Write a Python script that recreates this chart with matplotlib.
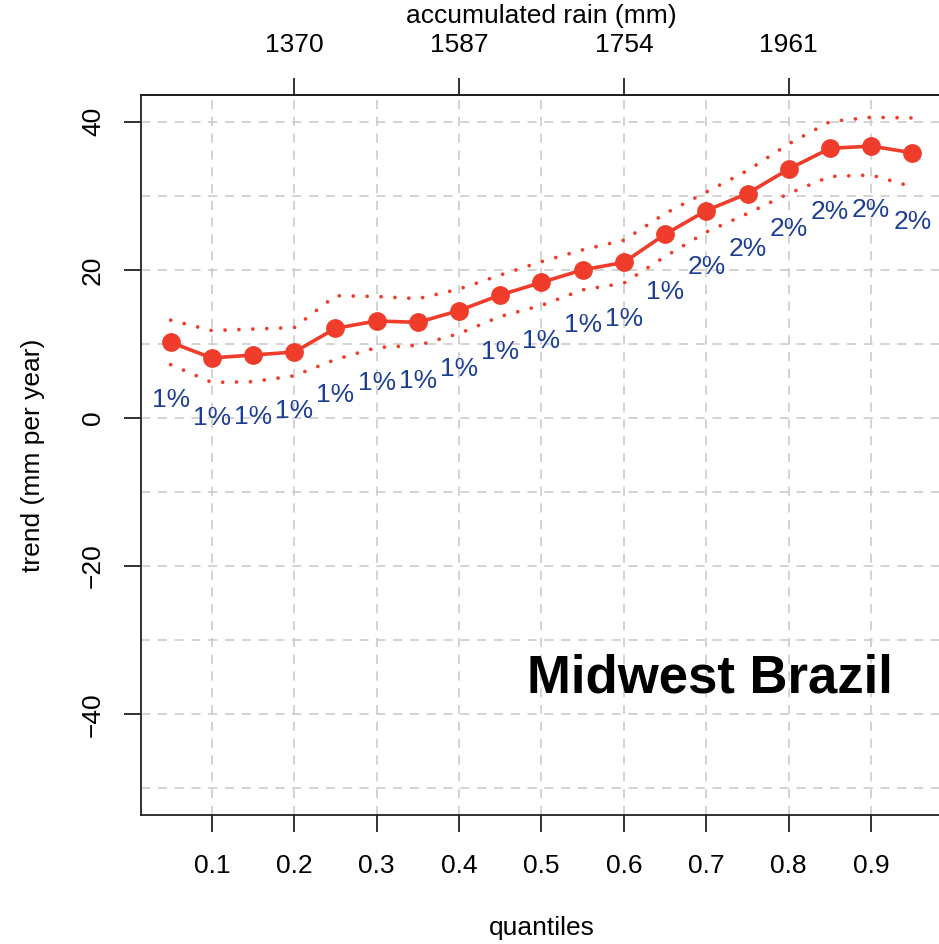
import matplotlib
matplotlib.use("Agg")
import matplotlib.pyplot as plt
import numpy as np

plt.rcParams['font.family'] = ['Liberation Sans', 'DejaVu Sans']

# ---- data ----
quantiles = [0.05, 0.10, 0.15, 0.20, 0.25, 0.30, 0.35, 0.40, 0.45, 0.50,
             0.55, 0.60, 0.65, 0.70, 0.75, 0.80, 0.85, 0.90, 0.95]
trend = [10.2, 8.1, 8.5, 8.9, 12.1, 13.1, 12.9, 14.5, 16.6, 18.3,
         20.0, 21.0, 24.8, 28.0, 30.3, 33.6, 36.4, 36.7, 35.8]
upper = [13.2, 11.8, 12.0, 12.2, 16.5, 16.4, 16.1, 17.4, 19.3, 21.1,
         22.7, 24.0, 27.6, 30.5, 33.4, 37.0, 40.0, 40.6, 40.5]
lower = [7.2, 4.8, 4.9, 5.7, 7.9, 9.5, 9.8, 11.4, 13.7, 15.2,
         17.3, 18.2, 21.8, 25.1, 27.6, 30.3, 32.6, 32.8, 31.2]
pct_labels = ['1%'] * 13 + ['2%'] * 6
rain_tick_q = [0.2, 0.4, 0.6, 0.8]
rain_labels = ['1370', '1587', '1754', '1961']
x_ticks = [0.1, 0.2, 0.3, 0.4, 0.5, 0.6, 0.7, 0.8, 0.9]
y_ticks = [-40, -20, 0, 20, 40]
y_grid = [-50, -40, -30, -20, -10, 0, 10, 20, 30, 40]
title = 'Midwest Brazil'

red = '#F03C2A'
blue = '#1C3F94'
FS = 19

fig = plt.figure(figsize=(9.39, 9.44), dpi=100)
ax = fig.add_axes([141/939, 129/944, 801/939, 720/944])

xr = max(quantiles) - min(quantiles)
ax.set_xlim(min(quantiles) - 0.04*xr, max(quantiles) + 0.04*xr)
ax.set_ylim(-50 - 0.04*90, 40 + 0.04*90)

# grid
for gx in x_ticks:
    ax.axvline(gx, color='#c8c8c8', lw=1.1, ls=(0, (6, 5)), zorder=0)
for gy in y_grid:
    ax.axhline(gy, color='#c8c8c8', lw=1.1, ls=(0, (6, 5)), zorder=0)

ax.plot(quantiles, upper, color=red, lw=2.7, ls=(0, (0.01, 3.7)),
        dash_capstyle='round', zorder=2)
ax.plot(quantiles, lower, color=red, lw=2.7, ls=(0, (0.01, 3.7)),
        dash_capstyle='round', zorder=2)
ax.plot(quantiles, trend, color=red, lw=2.6, marker='o', ms=12.5, zorder=3)

for q, lo, lab in zip(quantiles, lower, pct_labels):
    ax.annotate(lab, (q, lo), xytext=(0, -25.5), textcoords='offset points',
                ha='center', va='center', color=blue, fontsize=FS)

ax.text(0.9388, 0.1708, title, transform=ax.transAxes, ha='right',
        va='baseline', fontsize=38, fontweight='bold', color='black')

# axes styling
for s in ax.spines.values():
    s.set_linewidth(1.3)
    s.set_color('#222222')
ax.set_xticks(x_ticks)
ax.set_xticklabels([f'{v:.1f}' for v in x_ticks])
ax.set_yticks(y_ticks)
ax.set_yticklabels([f'{v}'.replace('-', '\u2212') for v in y_ticks],
                   rotation=90, va='center')
ax.tick_params(axis='both', length=12, width=1.3, color='#222222',
               labelsize=FS)
ax.tick_params(axis='x', pad=16)
ax.tick_params(axis='y', pad=14)

ax.text(0.5, -(928-815)/720, 'quantiles', transform=ax.transAxes,
        ha='center', va='center', fontsize=FS)
ax.text((33-141)/801, 0.5, 'trend (mm per year)', transform=ax.transAxes,
        ha='center', va='center', rotation=90, fontsize=FS)
ax.text(0.5, 1 + (95-16)/720, 'accumulated rain (mm)', transform=ax.transAxes,
        ha='center', va='center', fontsize=FS)

top = ax.secondary_xaxis('top')
top.set_xticks(rain_tick_q)
top.set_xticklabels(rain_labels)
top.tick_params(length=12, width=1.3, color='#222222', labelsize=FS, pad=15)
top.spines['top'].set_linewidth(1.3)

fig.savefig('out.png', dpi=100)
